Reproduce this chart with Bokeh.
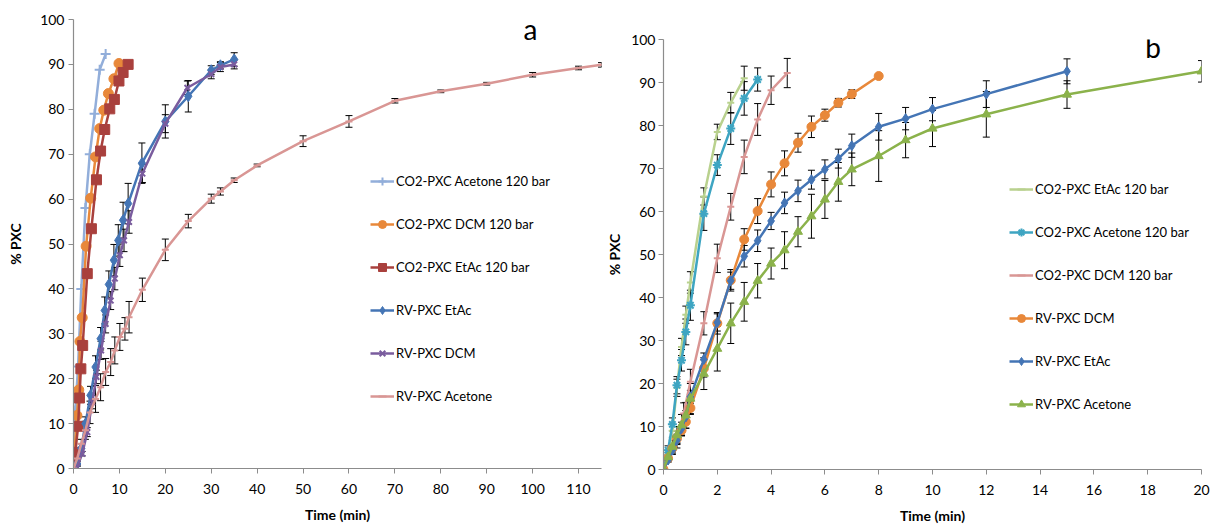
from bokeh.plotting import figure
from bokeh.models import (Range1d, ColumnDataSource, Whisker, TeeHead, Legend,
                          LegendItem, Label, FixedTicker)
from bokeh.layouts import row
from bokeh.embed import file_html
from bokeh.resources import INLINE

FONT = "Lato"

# ---------------- Panel a data ----------------
a_co2_ace_x = [0, 0.4, 1.0, 1.7, 2.6, 3.55, 4.6, 5.7, 7.0]
a_co2_ace_y = [0, 12.9, 22.7, 40, 58, 70, 79, 88.8, 92.3]

a_co2_dcm_x = [0, 0.75, 1.15, 1.4, 1.9, 2.75, 3.75, 4.8, 5.7, 6.6, 7.6, 8.8, 9.9]
a_co2_dcm_y = [0, 11.8, 17.5, 28.3, 33.6, 49.5, 60.2, 69.4, 75.7, 79.8, 83.5, 86.8, 90.2]

a_co2_etac_x = [0, 0.4, 1.0, 1.3, 1.6, 2.0, 3.0, 3.9, 5.0, 5.9, 6.8, 7.9, 8.9, 9.9, 10.8, 11.9]
a_co2_etac_y = [0, 3.6, 9.4, 15.7, 22.2, 27.4, 43.4, 53.4, 64.3, 70.7, 75.5, 80.1, 82.2, 86.3, 88.2, 90.0]

a_rv_etac_x = [0, 0.8, 1.7, 2.6, 3.7, 4.8, 5.9, 6.8, 7.7, 8.8, 9.75, 10.8, 11.9, 14.9, 20, 25, 30, 32, 35]
a_rv_etac_y = [0, 1, 4.5, 10, 16.3, 22.6, 28.9, 35.2, 41, 46.4, 50.8, 55.3, 59, 68, 77.3, 82.9, 88.7, 89.8, 91.1]
a_rv_etac_err = [0, 0.5, 1, 1.5, 2, 2.5, 2.5, 3, 3, 3.5, 3.5, 4, 4.5, 4.5, 3.7, 3.5, 1, 0.8, 1.5]

a_rv_dcm_x = [0, 0.8, 1.9, 3.0, 4.1, 5.0, 6.0, 7.0, 8.1, 9.0, 10.1, 11.0, 12.1, 15, 20, 24.8, 30, 32, 35]
a_rv_dcm_y = [0, 0.3, 3.3, 8.1, 14.8, 20.4, 26.3, 32.2, 37.4, 42.3, 47.5, 50.8, 54.9, 65.7, 76.8, 84.8, 87.8, 89.4, 90.0]
a_rv_dcm_err = [0, 0.3, 0.5, 1, 1.5, 1.5, 2, 2, 2, 2.5, 2.5, 2.5, 2.5, 2, 2, 1.5, 1, 1, 1]

a_rv_ace_x = [0, 0.8, 1.7, 2.6, 3.6, 4.8, 5.9, 7.0, 8.1, 9.0, 10.1, 11.2, 12.1, 15, 20, 25, 30, 32,
              35, 40, 50, 60, 70, 80, 90, 100, 110, 115]
a_rv_ace_y = [0, 2.2, 5.5, 8.5, 12.5, 15.5, 18.1, 21.5, 23.7, 26.3, 29.3, 31.1, 33.7, 39.8, 48.7,
              55.1, 60.1, 61.7, 64.2, 67.5, 72.9, 77.3, 81.9, 84.0, 85.7, 87.7, 89.2, 89.9]
a_rv_ace_err = [0, 0.5, 1, 2, 2.5, 3, 3, 3, 3, 3, 3, 2.5, 3.5, 2.6, 2.4, 1.5, 1.0, 0.8,
                0.5, 0.3, 1.2, 1.3, 0.5, 0.3, 0.3, 0.5, 0.4, 0.5]

# ---------------- Panel b data ----------------
b_co2_etac_x = [0, 0.17, 0.33, 0.5, 0.67, 0.83, 1.0, 1.5, 2.0, 2.5, 3.0]
b_co2_etac_y = [0, 3.5, 9, 19, 28.5, 36, 43.5, 63.5, 78.5, 85.3, 91]
b_co2_etac_err = [0, 1, 1.5, 2, 2, 2, 2.5, 2, 1.8, 2.4, 2.8]

b_co2_ace_x = [0, 0.17, 0.33, 0.5, 0.67, 0.83, 1.0, 1.5, 2.0, 2.5, 3.0, 3.5]
b_co2_ace_y = [0, 4.5, 10.5, 19.6, 25.4, 32, 38.2, 59.5, 70.8, 79.3, 86.3, 90.7]
b_co2_ace_err = [0, 1, 1.5, 2, 2.5, 3, 3.5, 3.9, 2.4, 3.7, 3.9, 2.7]

b_co2_dcm_x = [0, 0.5, 0.75, 1.0, 1.5, 2.0, 2.5, 3.0, 3.5, 4.0, 4.6]
b_co2_dcm_y = [0, 7, 13, 20.4, 34, 49.1, 61.1, 72.7, 81.4, 88.2, 92.2]
b_co2_dcm_err = [0, 2, 2.5, 2.9, 2.7, 3.3, 3.1, 3.9, 3.7, 3.3, 3.4]

b_rv_dcm_x = [0, 0.17, 0.33, 0.5, 0.67, 0.83, 1, 1.5, 2, 2.5, 3, 3.5, 4, 4.5, 5, 5.5, 6, 6.5, 7, 8]
b_rv_dcm_y = [0, 2.6, 4.9, 7.2, 9.1, 11.1, 14.3, 23.5, 34, 44, 53.5, 60.1, 66.3, 71.2, 76, 79.7,
              82.4, 85.3, 87.3, 91.5]
b_rv_dcm_err = [0, 0.5, 0.8, 1, 1.2, 1.5, 1.5, 2, 2.5, 2.5, 2.5, 2.9, 2.9, 2.9, 2.2, 2.5, 1.4, 1, 1, 0]

b_rv_etac_x = [0, 0.17, 0.33, 0.5, 0.67, 0.83, 1, 1.5, 2, 2.5, 3, 3.5, 4, 4.5, 5, 5.5, 6, 6.5, 7,
               8, 9, 10, 12, 15]
b_rv_etac_y = [0, 2.2, 4.5, 6.8, 9.5, 12.2, 16.9, 25.6, 34.2, 43.9, 49.6, 53.2, 57.8, 62, 64.8,
               67.4, 69.8, 72.3, 75.3, 79.7, 81.6, 83.8, 87.3, 92.6]
b_rv_etac_err = [0, 0.5, 1, 1, 1.5, 1.5, 1.5, 1.5, 2, 2, 2.5, 2.5, 2, 2.5, 2.5, 2.2, 2.2, 2.2,
                 2.7, 3.1, 2.6, 2.7, 3.1, 2.9]

b_rv_ace_x = [0, 0.17, 0.33, 0.5, 0.67, 0.83, 1, 1.5, 2, 2.5, 3, 3.5, 4, 4.5, 5, 5.5, 6, 6.5, 7,
              8, 9, 10, 12, 15, 20]
b_rv_ace_y = [0, 2.9, 5.3, 8, 10.3, 12.6, 16.5, 22.3, 28.1, 34, 39, 43.9, 47.9, 51, 55.3, 58.9,
              62.8, 66.9, 69.8, 72.9, 76.6, 79.3, 82.6, 87.2, 92.6]
b_rv_ace_err = [0, 1, 1.5, 2, 2.5, 3, 3.5, 3.7, 5.2, 4.7, 4.5, 4, 3.6, 4.3, 3.5, 5.1, 4.4, 4.5,
                3.8, 5.9, 4.1, 4.2, 5.3, 3.2, 2.5]

y_ticks = [0, 10, 20, 30, 40, 50, 60, 70, 80, 90, 100]
a_x_ticks = [0, 10, 20, 30, 40, 50, 60, 70, 80, 90, 100, 110]
b_x_ticks = [0, 2, 4, 6, 8, 10, 12, 14, 16, 18, 20]


def make_fig(width, xmax, xticks, mbl, mbr, mbt, mbb, ylab_standoff, ytick_standoff):
    p = figure(width=width, height=528, x_range=Range1d(0, xmax), y_range=Range1d(0, 100),
               output_backend="svg", toolbar_location=None, title_location=None,
               min_border_left=mbl, min_border_right=mbr, min_border_top=mbt,
               min_border_bottom=mbb, frame_align=False)
    p.outline_line_color = None
    p.xgrid.visible = False
    p.ygrid.visible = False
    p.background_fill_color = "white"
    p.border_fill_color = "white"
    p.xaxis.ticker = FixedTicker(ticks=xticks)
    p.yaxis.ticker = FixedTicker(ticks=y_ticks)
    for ax in (p.xaxis, p.yaxis):
        ax.axis_line_color = "#8c8c8c"
        ax.axis_line_width = 1.2
        ax.major_tick_line_color = "#8c8c8c"
        ax.major_tick_out = 5
        ax.major_tick_in = 0
        ax.minor_tick_line_color = None
        ax.major_label_text_font = FONT
        ax.major_label_text_font_size = "14px"
        ax.major_label_text_color = "black"
        ax.axis_label_text_font = FONT
        ax.axis_label_text_font_size = "14px"
        ax.axis_label_text_font_style = "bold"
        ax.axis_label_text_color = "black"
    p.xaxis.axis_label = "Time (min)"
    p.yaxis.axis_label = "% PXC"
    p.xaxis.major_label_standoff = 10
    p.xaxis.axis_label_standoff = 9
    p.yaxis.major_label_standoff = ytick_standoff
    p.yaxis.axis_label_standoff = ylab_standoff
    return p


def add_series(p, xs, ys, color, marker, size, err=None, lw=2.5):
    if err is not None:
        src = ColumnDataSource(dict(x=xs, lo=[y - e for y, e in zip(ys, err)],
                                    hi=[y + e for y, e in zip(ys, err)]))
        w = Whisker(source=src, base="x", lower="lo", upper="hi", line_color="black",
                    line_width=1,
                    upper_head=TeeHead(size=7, line_color="black", line_width=1),
                    lower_head=TeeHead(size=7, line_color="black", line_width=1))
        p.add_layout(w)
    lr = p.line(xs, ys, line_color=color, line_width=lw)
    if marker in ("cross", "x", "dash", "asterisk"):
        sr = p.scatter(xs, ys, marker=marker, size=size, line_color=color, line_width=2,
                       fill_color=color)
    else:
        sr = p.scatter(xs, ys, marker=marker, size=size, line_color=color, fill_color=color)
    return [lr, sr]


def style_legend(p, items, x, y):
    leg = Legend(items=items, location=(x, y), orientation="vertical")
    leg.label_text_font = FONT
    leg.label_text_font_size = "13px"
    leg.label_text_color = "black"
    leg.glyph_width = 24
    leg.glyph_height = 20
    leg.label_height = 20
    leg.label_standoff = 2
    leg.spacing = 23
    leg.padding = 0
    leg.margin = 0
    leg.border_line_alpha = 0
    leg.background_fill_alpha = 0
    p.add_layout(leg, "center")


c_ltblue = "#92AEDA"
c_orange = "#E8883A"
c_darkred = "#A9403D"
c_blue = "#4475B5"
c_purple = "#7A5C9E"
c_pink = "#D99694"
c_ltgreen = "#B9D18E"
c_teal = "#3EA5C2"
c_green = "#8BB24B"

# ---------------- Panel a ----------------
pa = make_fig(603, 115, a_x_ticks, 73, 2, 19, 60, 13, 4)

ra1 = add_series(pa, a_co2_ace_x, a_co2_ace_y, c_ltblue, "cross", 10)
ra2 = add_series(pa, a_co2_dcm_x, a_co2_dcm_y, c_orange, "circle", 10)
ra3 = add_series(pa, a_co2_etac_x, a_co2_etac_y, c_darkred, "square", 10)
ra4 = add_series(pa, a_rv_etac_x, a_rv_etac_y, c_blue, "diamond", 11, a_rv_etac_err)
ra5 = add_series(pa, a_rv_dcm_x, a_rv_dcm_y, c_purple, "x", 8, a_rv_dcm_err)
ra6 = add_series(pa, a_rv_ace_x, a_rv_ace_y, c_pink, "dash", 7, a_rv_ace_err)

style_legend(pa, [
    LegendItem(label="CO2-PXC Acetone 120 bar", renderers=ra1),
    LegendItem(label="CO2-PXC DCM 120 bar", renderers=ra2),
    LegendItem(label="CO2-PXC EtAc 120 bar", renderers=ra3),
    LegendItem(label="RV-PXC EtAc", renderers=ra4),
    LegendItem(label="RV-PXC DCM", renderers=ra5),
    LegendItem(label="RV-PXC Acetone", renderers=ra6),
], 297, 62)

pa.add_layout(Label(x=99.5, y=94.2, text="a", text_font=FONT, text_font_size="28px",
                    text_align="center", text_color="black"))

# ---------------- Panel b ----------------
pb = make_fig(607, 20, b_x_ticks, 60, 9, 39, 59, 5, 3)

rb1 = add_series(pb, b_co2_etac_x, b_co2_etac_y, c_ltgreen, "dash", 7, b_co2_etac_err)
rb2 = add_series(pb, b_co2_ace_x, b_co2_ace_y, c_teal, "asterisk", 9, b_co2_ace_err)
rb3 = add_series(pb, b_co2_dcm_x, b_co2_dcm_y, c_pink, "dash", 7, b_co2_dcm_err)
rb4 = add_series(pb, b_rv_dcm_x, b_rv_dcm_y, c_orange, "circle", 9, b_rv_dcm_err)
rb5 = add_series(pb, b_rv_etac_x, b_rv_etac_y, c_blue, "diamond", 10, b_rv_etac_err)
rb6 = add_series(pb, b_rv_ace_x, b_rv_ace_y, c_green, "triangle", 9, b_rv_ace_err)

style_legend(pb, [
    LegendItem(label="CO2-PXC EtAc 120 bar", renderers=rb1),
    LegendItem(label="CO2-PXC Acetone 120 bar", renderers=rb2),
    LegendItem(label="CO2-PXC DCM 120 bar", renderers=rb3),
    LegendItem(label="RV-PXC DCM", renderers=rb4),
    LegendItem(label="RV-PXC EtAc", renderers=rb5),
    LegendItem(label="RV-PXC Acetone", renderers=rb6),
], 346, 55)

pb.add_layout(Label(x=18.2, y=94.3, text="b", text_font=FONT, text_font_size="28px",
                    text_align="center", text_color="black"))

layout = row(pa, pb)
open("out.html", "w").write(file_html(layout, INLINE))
